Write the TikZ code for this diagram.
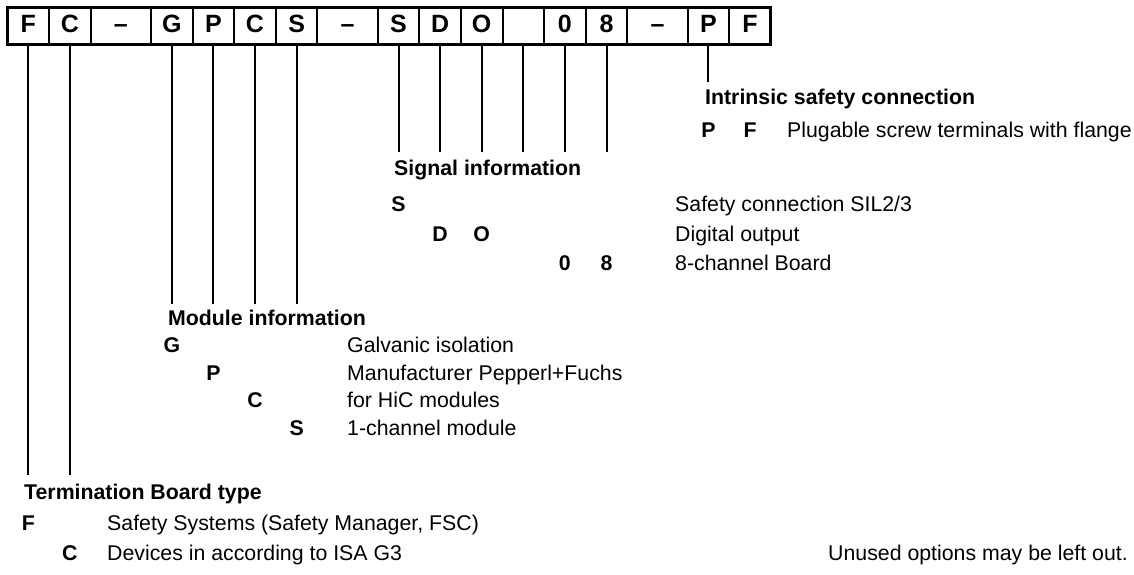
\documentclass[tikz,border=0pt]{standalone}
\usepackage{fontspec}
\setmainfont{Liberation Sans}
\usetikzlibrary{positioning}
\begin{document}
\begin{tikzpicture}[x=1pt, y=-1pt,
                cell/.style = {draw, line width=2pt, outer sep=0pt, inner sep=0pt,
                    minimum height=37.5pt, text height=17.5pt, text depth=4pt,
                    font=\fontsize{25}{29}\selectfont\bfseries},
                narrow/.style = {cell, minimum width=41.6pt},
                wide/.style = {cell, minimum width=60.3pt},
                lead/.style = {line width=2pt},
                head/.style = {anchor=base west, inner sep=0pt, font=\fontsize{21.3}{25}\selectfont\bfseries},
                code/.style = {anchor=base, inner sep=0pt, font=\fontsize{21.3}{25}\selectfont\bfseries},
                desc/.style = {anchor=base west, inner sep=0pt, font=\fontsize{21.3}{25}\selectfont}
            ]
            \useasboundingbox (0,0) rectangle (1134,575);
            % the type code
            \node[narrow, anchor=west] (tF) at (7.5,26.25) {F};
            \node[narrow, right=0pt of tF] (tC) {C};
            \node[wide, right=0pt of tC] (dashA) {--};
            \node[narrow, right=0pt of dashA] (mG) {G};
            \node[narrow, right=0pt of mG] (mP) {P};
            \node[narrow, right=0pt of mP] (mC) {C};
            \node[narrow, right=0pt of mC] (mS) {S};
            \node[wide, right=0pt of mS] (dashB) {--};
            \node[narrow, right=0pt of dashB] (sS) {S};
            \node[narrow, right=0pt of sS] (sD) {D};
            \node[narrow, right=0pt of sD] (sO) {O};
            \node[narrow, right=0pt of sO] (sX) {};
            \node[narrow, right=0pt of sX] (sZero) {0};
            \node[narrow, right=0pt of sZero] (sEight) {8};
            \node[wide, right=0pt of sEight] (dashC) {--};
            \node[narrow, right=0pt of dashC] (iP) {P};
            \node[narrow, right=0pt of iP] (iF) {F};
            \draw[line width=3pt] (tF.north west) rectangle (iF.south east);

            % where the leads stop
            \coordinate (intrEnd) at (0,82);
            \coordinate (sigEnd) at (0,152);
            \coordinate (modEnd) at (0,304);
            \coordinate (typeEnd) at (0,475);

            \draw[lead] (iP.south) -- (iP |- intrEnd);
            \draw[lead] (sS.south) -- (sS |- sigEnd);
            \draw[lead] (sD.south) -- (sD |- sigEnd);
            \draw[lead] (sO.south) -- (sO |- sigEnd);
            \draw[lead] (sX.south) -- (sX |- sigEnd);
            \draw[lead] (sZero.south) -- (sZero |- sigEnd);
            \draw[lead] (sEight.south) -- (sEight |- sigEnd);
            \draw[lead] (mG.south) -- (mG |- modEnd);
            \draw[lead] (mP.south) -- (mP |- modEnd);
            \draw[lead] (mC.south) -- (mC |- modEnd);
            \draw[lead] (mS.south) -- (mS |- modEnd);
            \draw[lead] (tF.south) -- (tF |- typeEnd);
            \draw[lead] (tC.south) -- (tC |- typeEnd);

            % Intrinsic safety connection
            \coordinate (rowPF) at (0,137);
            \node[head] (intrHead) at (705,105) {Intrinsic safety connection};
            \node[code] (kiP) at (iP |- rowPF) {P};
            \node[code] (kiF) at (iF |- rowPF) {F};
            \node[desc] (dPF) at (787,137) {Plugable screw terminals with flange};

            % Signal information
            \coordinate (rowS) at (0,211);
            \coordinate (rowDO) at (0,241);
            \coordinate (rowNum) at (0,270);
            \node[head] (sigHead) at (394,175) {Signal information};
            \node[code] (ksS) at (sS |- rowS) {S};
            \node[code] (ksD) at (sD |- rowDO) {D};
            \node[code] (ksO) at (sO |- rowDO) {O};
            \node[code] (ksZero) at (sZero |- rowNum) {0};
            \node[code] (ksEight) at (sEight |- rowNum) {8};
            \node[desc] (dS) at (675,211) {Safety connection SIL2/3};
            \node[desc] (dDO) at (675,241) {Digital output};
            \node[desc] (dNum) at (675,270) {8-channel Board};

            % Module information
            \coordinate (rowG) at (0,352);
            \coordinate (rowP) at (0,380);
            \coordinate (rowC) at (0,407);
            \coordinate (rowMS) at (0,435);
            \node[head] (modHead) at (168,325) {Module information};
            \node[code] (kmG) at (mG |- rowG) {G};
            \node[code] (kmP) at (mP |- rowP) {P};
            \node[code] (kmC) at (mC |- rowC) {C};
            \node[code] (kmS) at (mS |- rowMS) {S};
            \node[desc] (dG) at (347,352) {Galvanic isolation};
            \node[desc] (dP) at (347,380) {Manufacturer Pepperl+Fuchs};
            \node[desc] (dC) at (347,407) {for HiC modules};
            \node[desc] (dMS) at (347,435) {1-channel module};

            % Termination Board type
            \coordinate (rowF) at (0,530);
            \coordinate (rowTC) at (0,560);
            \node[head] (typeHead) at (24,499) {Termination Board type};
            \node[code] (ktF) at (tF |- rowF) {F};
            \node[code] (ktC) at (tC |- rowTC) {C};
            \node[desc] (dF) at (107,530) {Safety Systems (Safety Manager, FSC)};
            \node[desc] (dTC) at (107,560) {Devices in according to ISA G3};

            \node[desc] (note) at (828,560) {Unused options may be left out.};
        \end{tikzpicture}
\end{document}
